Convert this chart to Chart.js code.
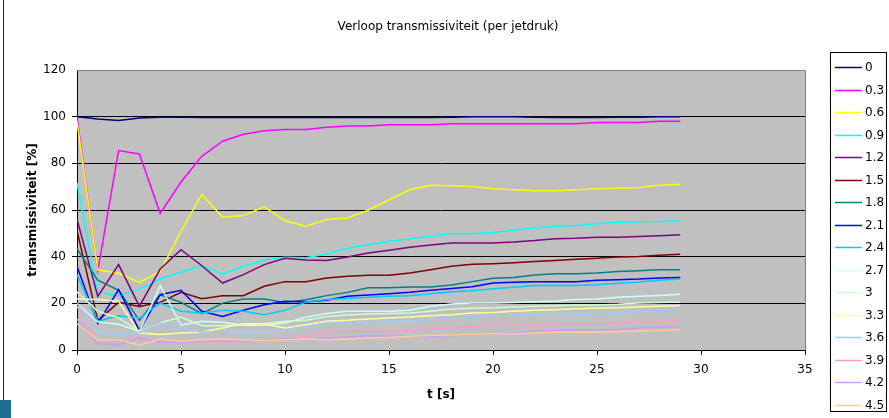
<!DOCTYPE html>
<html>
<head>
<meta charset="utf-8">
<script src="https://cdn.jsdelivr.net/npm/chart.js@4/dist/chart.umd.min.js"></script>
<style>
  html, body { margin: 0; padding: 0; background: #fff; }
  #wrap { width: 889px; height: 418px; position: relative; }
</style>
</head>
<body>
<div id="wrap"><canvas id="transChart" width="889" height="418"></canvas></div>
<script>
// tijd in seconden
const tijd = [0,1,2,3,4,5,6,7,8,9,10,11,12,13,14,15,16,17,18,19,20,21,22,23,24,25,26,27,28,29];

// jetdruk labels
const drukLabels = ['0','0.3','0.6','0.9','1.2','1.5','1.8','2.1','2.4','2.7','3','3.3','3.6','3.9','4.2','4.5'];

const kleuren = ['#000080','#FF00FF','#FFFF00','#00FFFF','#800080','#800000','#008080','#0000FF',
                 '#00CCFF','#CCFFFF','#CCFFCC','#FFFF99','#99CCFF','#FF99CC','#CC99FF','#FFCC99'];

const d0_0 = [100,99,98.4,99.4,99.8,99.7,99.6,99.6,99.6,99.6,99.6,99.6,99.6,99.6,99.6,99.6,99.6,99.6,99.7,100,100,100,99.7,99.6,99.6,99.6,99.7,99.8,100,100];
const d0_3 = [100,34,85.5,84,58.5,72,83,89.5,92.5,94,94.5,94.5,95.5,96,96,96.5,96.5,96.5,97,97,97,97,97,97,97,97.5,97.5,97.5,98,98];
const d0_6 = [98,34.4,32.9,29,33.7,50.9,66.6,56.9,57.6,61.4,55.4,53,55.9,56.6,59.9,64.4,68.7,70.6,70.4,70.1,69.1,68.7,68.3,68.3,68.7,69.1,69.3,69.6,70.6,71];
const d0_9 = [71.6,24.7,23.3,26.1,30.4,33.4,36.1,32.6,35.9,38.6,39.7,39.5,41.1,43.6,45.1,46.6,47.7,48.7,49.9,49.9,50.4,51.3,52.3,53,53.4,54.1,54.7,55,55.1,55.4];
const d1_2 = [56.1,23,36.6,18.7,34.7,43,36.1,28.7,32.3,36.6,39.3,38.6,38.4,39.9,41.6,42.7,44,45,45.9,45.9,45.9,46.3,46.9,47.7,47.9,48.3,48.3,48.6,49,49.4];
const d1_5 = [51.3,12.6,20.4,18.7,20.4,24.7,22,23.3,23.3,27.3,29.3,29.3,30.9,31.6,32,32,33,34.4,35.9,36.7,37,37.4,37.9,38.4,38.9,39.3,39.9,40.1,40.6,41];
const d1_8 = [43.3,29.9,25.6,12.7,23.7,20.4,15.6,20.1,21.9,21.9,20.4,21.5,23.3,24.7,26.7,26.7,27,27,27.9,29.3,30.7,31.1,32.1,32.7,32.7,33,33.6,34,34.4,34.4];
const d2_1 = [35.9,11.3,25.9,8.4,23.7,25.6,16.6,14.4,17,19.4,20.9,20.6,21.3,23,23.6,24.1,24.7,25.6,26.4,27.1,28.7,29,29.3,29.3,29.3,29.9,30.1,30.4,30.9,31.1];
const d2_4 = [32.3,12.3,14.7,13.7,20.1,16.6,15.9,17,16.6,15.1,17,20.5,21.6,22.1,22.6,23,23.3,24.1,25,25.4,26.3,26.9,27.6,27.6,27.6,28,28.6,29.1,29.9,30.4];
const d2_7 = [20,12,11,8,27.6,10.6,12.3,11.9,10.6,10.6,11.6,14,15.6,16.6,16.6,16.6,17,18.7,19.7,20.1,20.1,20.4,20.7,21,21.6,21.9,22.6,23,23.4,23.9];
const d3_0 = [24.9,16.6,13.7,8,11.6,14.1,10.4,10.4,10.9,11.3,12.3,12.8,14.4,15,15.4,15.6,15.9,16.6,17.6,17.9,18.1,18.4,18.7,19,19.3,19.3,19.6,20.1,20.4,20.6];
const d3_3 = [21.9,21.6,20.9,7.3,6.6,7.3,7.6,9.4,11.3,11.1,9.4,10.8,12.3,12.7,13.3,13.7,14.1,14.7,15.1,15.9,16.1,16.6,17,17.3,17.7,17.9,18.1,18.4,18.7,19.1];
const d3_6 = [20.1,7.6,6.6,7.6,11.6,9.4,7.6,8,8,7.6,8.7,10.1,11.6,11.6,11.9,12.3,12.6,13,13.7,14.4,14.7,15,15.3,15.6,15.6,15.6,15.9,16.4,17,17.4];
const d3_9 = [18.7,3.7,3.7,5.6,3.7,3.4,3.7,3.4,3.7,3.7,4.4,5.9,7.6,8,8,8,8.4,9,9.4,10.1,10.6,10.6,11,11.3,11.3,11.3,11.6,12,12.3,12.7];
const d4_2 = [13.3,2.7,2.1,5.1,3.3,3.3,3.7,3.7,3.7,4.4,4.7,4.7,5,5.6,6.1,6.1,6.1,5.9,6.1,6.6,7,7.3,8,8.4,8.7,8.7,8.7,9.4,9.9,10.1];
const d4_5 = [11.3,4.4,4.4,2,4.7,3.7,4.4,4.7,4.4,4.1,4.4,4.7,4.4,4.7,5.1,5.4,5.9,6.3,6.4,6.7,7,7,7.3,7.6,7.6,7.6,7.9,8.1,8.4,8.7];

const reeksen = [d0_0,d0_3,d0_6,d0_9,d1_2,d1_5,d1_8,d2_1,d2_4,d2_7,d3_0,d3_3,d3_6,d3_9,d4_2,d4_5];

const yTicks = [0,20,40,60,80,100,120];
const xTicks = [0,5,10,15,20,25,30,35];

const FONT = '"DejaVu Sans", Verdana, sans-serif';

const datasets = reeksen.map(function(r, i) {
  return {
    label: drukLabels[i],
    data: r.map(function(v, k) { return { x: tijd[k], y: v }; }),
    borderColor: kleuren[i],
    backgroundColor: kleuren[i],
    borderWidth: 1.5,
    pointRadius: 0,
    tension: 0,
    fill: false,
    order: reeksen.length - i
  };
});

// achtergrond, titels en legenda zelf tekenen (Excel look)
const excelLook = {
  id: 'excelLook',
  beforeDraw(chart) {
    const c = chart.ctx, a = chart.chartArea;
    c.save();
    c.fillStyle = '#fff';
    c.fillRect(0, 0, chart.width, chart.height);
    c.fillStyle = '#C0C0C0';
    c.fillRect(a.left, a.top, a.right - a.left, a.bottom - a.top);
    c.restore();
  },
  afterDatasetsDraw(chart) {
    const c = chart.ctx, a = chart.chartArea;
    c.save();
    c.strokeStyle = '#808080';
    c.lineWidth = 1;
    c.beginPath();
    c.moveTo(a.left, a.top + 0.5);
    c.lineTo(a.right + 0.5, a.top + 0.5);
    c.lineTo(a.right + 0.5, a.bottom);
    c.stroke();
    c.restore();
  },
  afterDraw(chart) {
    const c = chart.ctx;
    c.save();
    // linkerrand
    c.strokeStyle = '#222';
    c.lineWidth = 1;
    c.beginPath();
    c.moveTo(3.5, 0);
    c.lineTo(3.5, 400);
    c.stroke();
    c.fillStyle = '#1f6f93';
    c.fillRect(0, 400, 11, 18);

    c.fillStyle = '#000';
    c.textAlign = 'center';
    c.textBaseline = 'middle';
    c.font = '12px ' + FONT;
    c.fillText('Verloop transmissiviteit (per jetdruk)', 448, 27);

    c.font = 'bold 12px ' + FONT;
    c.fillText('t [s]', 441, 395);
    c.save();
    c.translate(33, 210);
    c.rotate(-Math.PI / 2);
    c.fillText('transmissiviteit [%]', 0, 0);
    c.restore();

    // legenda
    c.fillStyle = '#fff';
    c.fillRect(830, 52, 57, 360);
    c.strokeStyle = '#000';
    c.strokeRect(830.5, 52.5, 56, 359);
    c.textAlign = 'left';
    c.font = '12px ' + FONT;
    chart.data.datasets.forEach(function(ds, i) {
      const y = 67 + i * 22.5;
      c.strokeStyle = ds.borderColor;
      c.lineWidth = 1.5;
      c.beginPath();
      c.moveTo(835, Math.round(y) + 0.5);
      c.lineTo(862, Math.round(y) + 0.5);
      c.stroke();
      c.fillStyle = '#000';
      c.fillText(ds.label, 865, y + 1);
    });
    c.restore();
  }
};

new Chart(document.getElementById('transChart').getContext('2d'), {
  type: 'line',
  data: { datasets: datasets },
  options: {
    responsive: false,
    animation: false,
    events: [],
    layout: { padding: { left: 0, top: 70, right: 84, bottom: 0 } },
    plugins: { legend: { display: false }, title: { display: false }, tooltip: { enabled: false } },
    scales: {
      x: {
        type: 'linear',
        min: 0, max: 35,
        afterFit: function(s) { s.height = 68; },
        afterBuildTicks: function(s) { s.ticks = xTicks.map(function(v) { return { value: v }; }); },
        grid: { drawOnChartArea: false, drawTicks: true, tickLength: 5, color: '#000' },
        border: { color: '#000', width: 1 },
        ticks: { color: '#000', font: { family: FONT, size: 12 }, padding: 8, maxRotation: 0 }
      },
      y: {
        min: 0, max: 120,
        afterFit: function(s) { s.width = 77; },
        afterBuildTicks: function(s) { s.ticks = yTicks.map(function(v) { return { value: v }; }); },
        grid: {
          drawTicks: true, tickLength: 5,
          color: function(ctx) { return ctx.tick && ctx.tick.value === 120 ? 'rgba(0,0,0,0)' : '#000'; }
        },
        border: { color: '#000', width: 1 },
        ticks: { color: '#000', font: { family: FONT, size: 12 }, padding: 6 }
      }
    }
  },
  plugins: [excelLook]
});
</script>
</body>
</html>
